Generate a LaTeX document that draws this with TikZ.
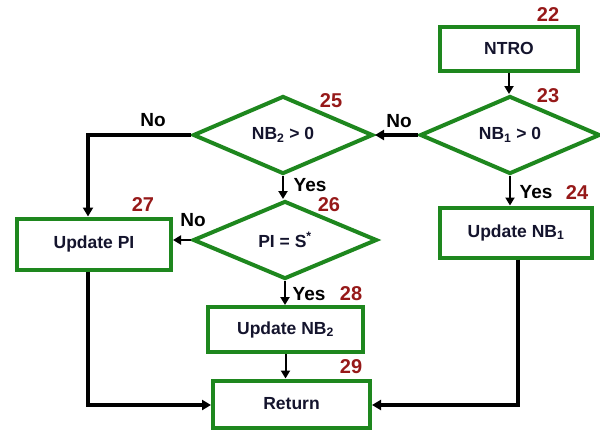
\documentclass[tikz,border=0pt]{standalone}
\usepackage{fontspec}
\setmainfont{Liberation Sans}
\usetikzlibrary{shapes.geometric,arrows.meta}
\definecolor{boxgreen}{RGB}{30,135,30}
\definecolor{numred}{RGB}{150,25,25}
\definecolor{txt}{RGB}{20,20,45}
\tikzset{
  box/.style={draw=boxgreen,line width=4pt,fill=white,minimum width=#1,minimum height=44pt,inner sep=0pt,font=\fontsize{17.5}{19}\selectfont\bfseries,text=txt},
  dec/.style={draw=boxgreen,line width=4pt,fill=white,diamond,aspect=2.3,minimum width=180pt,minimum height=78pt,inner sep=0pt,font=\fontsize{17.5}{19}\selectfont\bfseries,text=txt},
  num/.style={font=\fontsize{20}{22}\selectfont\bfseries,text=numred},
  lbl/.style={font=\fontsize{19}{21}\selectfont\bfseries,text=black},
  thinarr/.style={draw=black,line width=2pt,-{Triangle[length=8pt,width=9pt]}},
  thickarr/.style={draw=black,line width=3.5pt,-{Triangle[length=9pt,width=10pt]}},
}
\begin{document}
\begin{tikzpicture}[x=1pt,y=-1pt]
\useasboundingbox (0,0) rectangle (600,432);
\node[box=138pt] (ntro) at (509,48.5) {NTRO};
\node[num] (n22) at (548,15) {22};
\node[dec] (d23) at (510,135) {NB\textsubscript{1} > 0};
\node[num] (n23) at (548,96) {23};
\node[box=152pt,minimum height=50pt] (unb1) at (516,232.5) {Update NB\textsubscript{1}};
\node[num] (n24) at (577,193) {24};
\node[dec,minimum width=180pt] (d25) at (283,135) {NB\textsubscript{2} > 0};
\node[num] (n25) at (331,101) {25};
\node[dec,minimum width=184pt] (d26) at (285,240) {PI = S\textsuperscript{*}};
\node[num] (n26) at (329,205) {26};
\node[box=154pt,minimum height=51pt] (upi) at (94,244) {Update PI};
\node[num] (n27) at (143,205) {27};
\node[box=155pt,minimum height=45pt] (unb2) at (285.5,329.5) {Update NB\textsubscript{2}};
\node[num] (n28) at (351,294) {28};
\node[box=157pt,minimum height=47pt] (ret) at (291.5,404) {Return};
\node[num] (n29) at (351,367) {29};
\coordinate (c1) at (88,135);
\coordinate (c2) at (88,405);
\coordinate (c3) at (518,405);
\draw[thinarr] (ntro.south) -- (ntro.south |- d23.north);
\draw[thickarr] (d23.west) -- (d25.east);
\node[lbl] (no1) at (399,121) {No};
\draw[thinarr] (d23.south) -- (d23.south |- unb1.north);
\node[lbl] (yes1) at (536,192) {Yes};
\draw[thickarr] (d25.west) -- (c1) -- (c1 |- upi.north);
\node[lbl] (no2) at (153,120) {No};
\draw[thinarr] (d25.south) -- (d25.south |- d26.north);
\node[lbl] (yes2) at (310,185) {Yes};
\draw[thinarr] (d26.west) -- (upi.east |- d26.west);
\node[lbl] (no3) at (193,220) {No};
\draw[thinarr] (d26.south) -- (d26.south |- unb2.north);
\node[lbl] (yes3) at (309,294) {Yes};
\draw[thinarr] (unb2.south) -- (unb2.south |- ret.north);
\draw[thickarr] (c1 |- upi.south) -- (c2) -- (ret.west |- c2);
\draw[thickarr] (unb1.south -| c3) -- (c3) -- (ret.east |- c3);
\end{tikzpicture}
\end{document}
